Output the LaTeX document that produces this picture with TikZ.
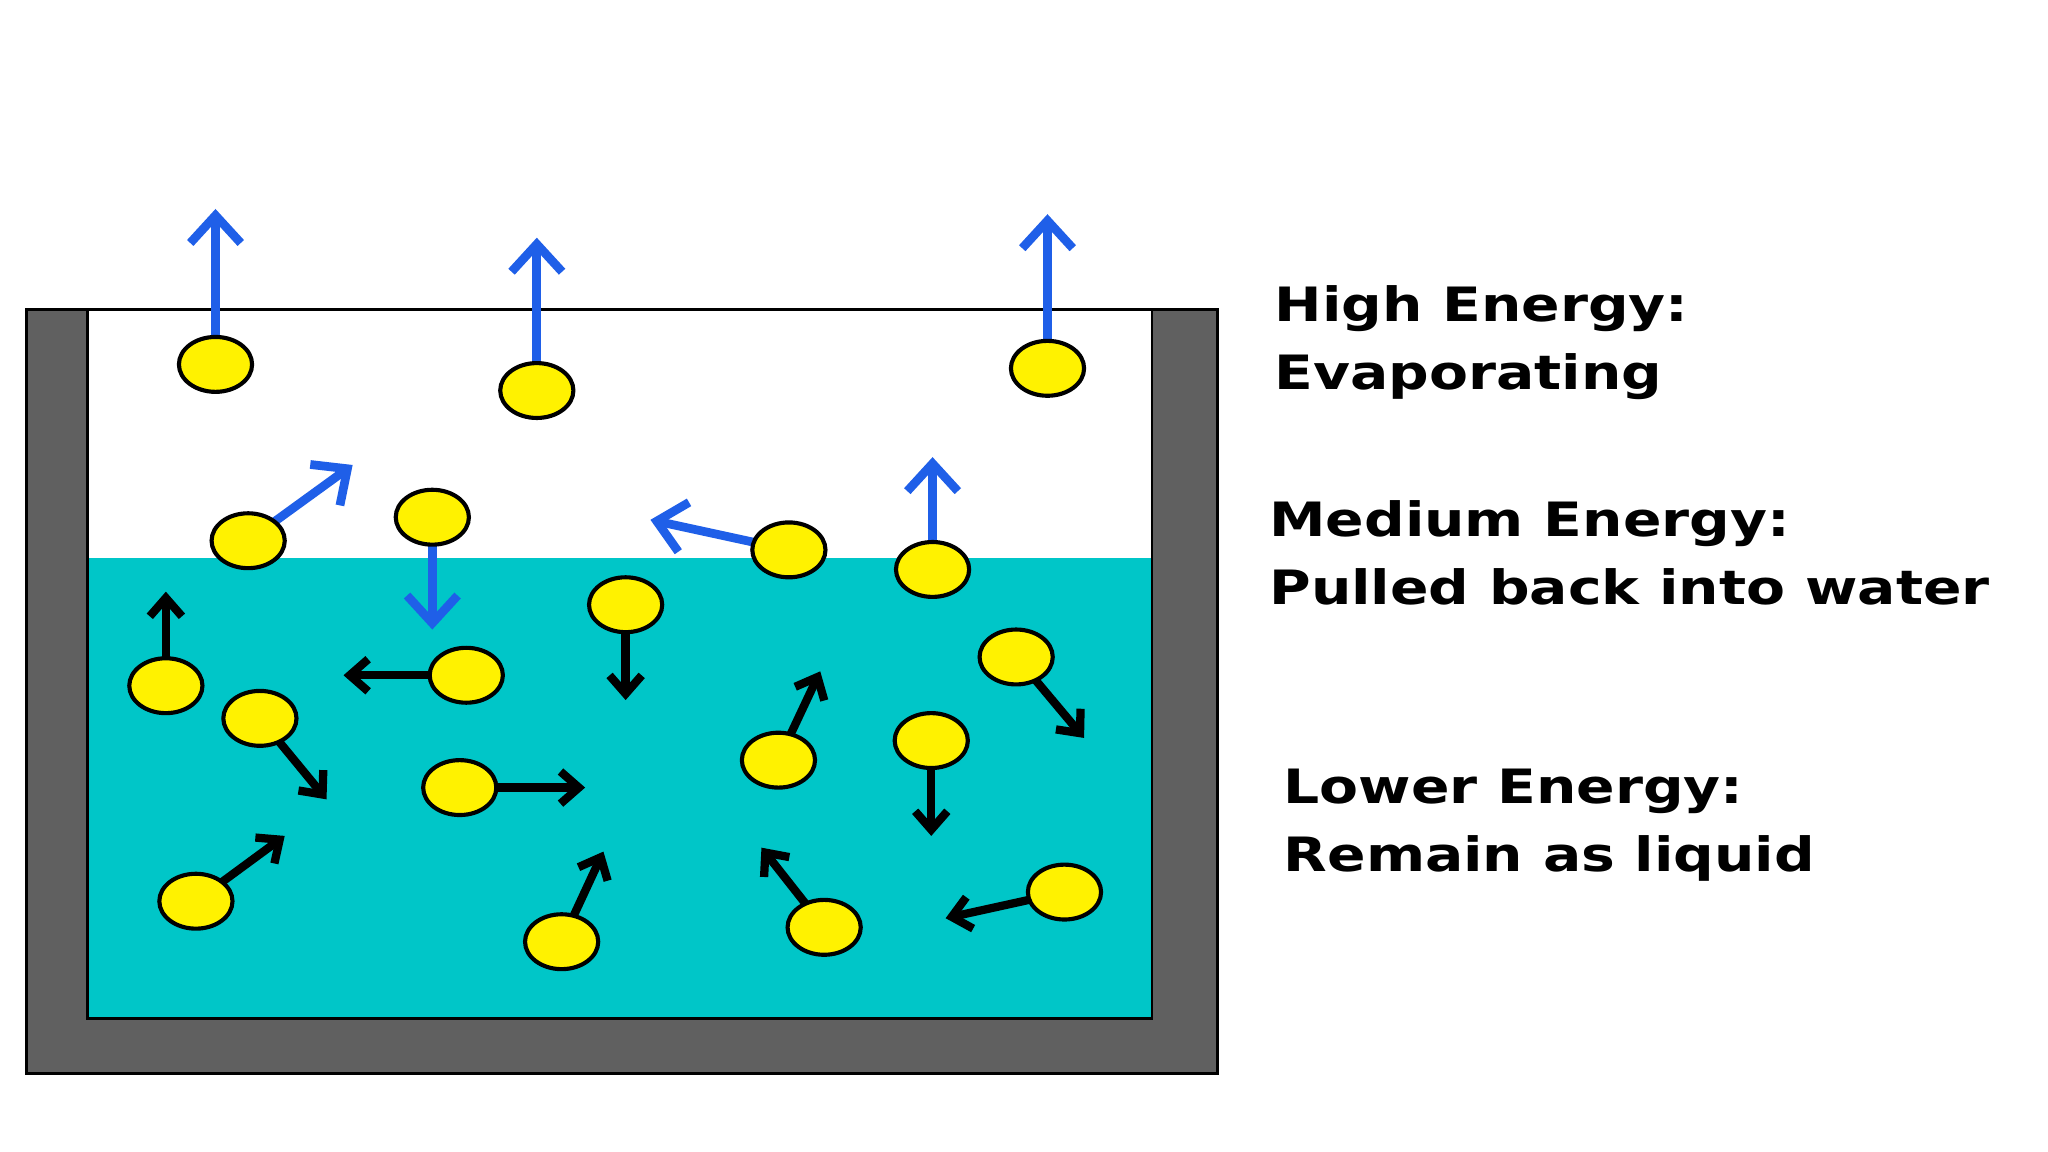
\documentclass[tikz,border=0pt]{standalone}
\usepackage{fontspec}
\setmainfont{DejaVu Sans}
\usetikzlibrary{arrows.meta,shapes.geometric}
\definecolor{wall}{HTML}{606060}
\definecolor{water}{HTML}{00C6C8}
\definecolor{mol}{HTML}{FFF200}
\definecolor{hiblue}{HTML}{1F5FE8}
\tikzset{
  molecule/.style={ellipse,draw=black,line width=0.9pt,fill=mol,minimum width=0.56cm,minimum height=0.42cm,inner sep=0pt},
  bluearrow/.style={draw=hiblue,line width=1.9pt,-{Straight Barb[length=6pt,width=11pt]}},
  blackarrow/.style={draw=black,line width=1.8pt,-{Straight Barb[length=4pt,width=7pt]}},
  label/.style={anchor=west,align=left,xscale=1.2,font=\bfseries\fontsize{10.3}{14.8}\selectfont}
}
\begin{document}
\begin{tikzpicture}[x=0.01cm,y=-0.01cm]
\useasboundingbox (0,0) rectangle (1568,882);
\fill[white] (0,0) rectangle (1568,882);
\filldraw[fill=wall,draw=black,line width=0.6pt] (20,237) rectangle (932,822);
\filldraw[fill=white,draw=black,line width=0.6pt] (67,237) rectangle (882,780);
\fill[water] (67,427) rectangle (882,780);
\draw[black,line width=0.6pt] (67,237) -- (67,780) -- (882,780) -- (882,237);
% blue arrows
\foreach \n/\x/\y/\tx/\ty in {b1/165/279/165/160, b2/411/299/411/182, b3/802/282/802/164,
  b4/190/414/270/356, b5/331/396/331/482, b6/604/421/498/398, b7/714/436/714/350}{
  \coordinate (\n t) at (\tx,\ty);
  \draw[bluearrow] (\x,\y) -- (\n t);
  \node[molecule] (\n) at (\x,\y) {};
}
% black arrows
\foreach \n/\x/\y/\tx/\ty in {k1/127/525/127/453, k2/357/517/263/517, k3/479/463/479/536,
  k4/199/550/250/612, k5/352/603/448/603, k6/596/582/628/514, k7/713/567/713/640,
  k8/778/503/830/565, k9/150/690/218/640, k10/430/721/462/652, k11/631/710/583/649,
  k12/815/683/724/703}{
  \coordinate (\n t) at (\tx,\ty);
  \draw[blackarrow] (\x,\y) -- (\n t);
  \node[molecule] (\n) at (\x,\y) {};
}
\node[label] (t1) at (961,262) {High Energy:\\Evaporating};
\node[label] (t2) at (957,423) {Medium Energy:\\Pulled back into water};
\node[label] (t3) at (968,632) {Lower Energy:\\Remain as liquid};
\end{tikzpicture}
\end{document}
